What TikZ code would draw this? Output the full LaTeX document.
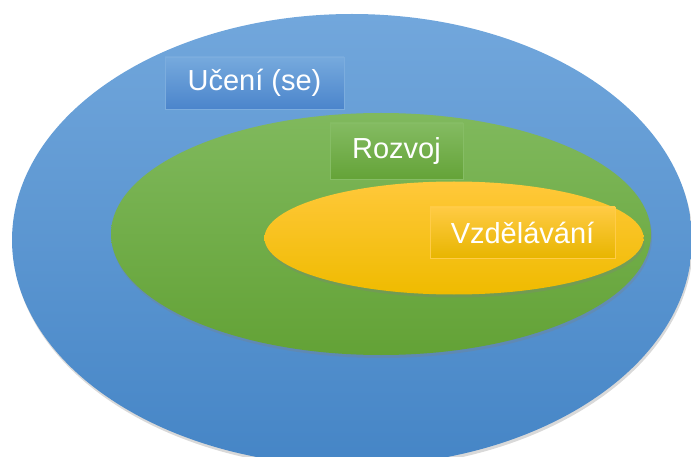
\documentclass[tikz,border=0pt]{standalone}
\usepackage{fontspec}
\setmainfont{Liberation Sans}
\usetikzlibrary{shapes, shadows}

\definecolor{bluetop}{HTML}{72A7DC}
\definecolor{bluebot}{HTML}{4585C6}
\definecolor{greentop}{HTML}{80B95D}
\definecolor{greenbot}{HTML}{63A236}
\definecolor{yellowtop}{HTML}{FFC83A}
\definecolor{yellowbot}{HTML}{EFBB00}

\begin{document}
\begin{tikzpicture}[x=1pt, y=-1pt]
\tikzstyle{set}=[ellipse, inner sep=0pt, drop shadow={opacity=0.3, shadow xshift=1pt, shadow yshift=-3pt}]
\tikzstyle{tag}=[rectangle, inner sep=0pt, line width=0.6pt, text=white, font=\fontsize{29}{33}\selectfont]
\useasboundingbox (0,0) rectangle (691,457);

% nested sets
\node[set, top color=bluetop, bottom color=bluebot, minimum width=680pt, minimum height=452pt](learning) at (352,240) {};
\node[set, top color=greentop, bottom color=greenbot, minimum width=540pt, minimum height=242pt](growth) at (381,234) {};
\node[set, top color=yellowtop, bottom color=yellowbot, minimum width=379pt, minimum height=113pt](education) at (454,238) {};

% labels
\node[tag, draw=bluetop!93!white, top color=bluetop!97!white, bottom color=bluebot!95!blue!95!white, minimum width=179pt, minimum height=52pt](learninglbl) at (254.5,83) {Učení (se)};
\node[tag, draw=greentop!95!white, top color=greentop!97!white, bottom color=greenbot!95!greentop, minimum width=133pt, minimum height=56pt](growthlbl) at (396.5,151) {Rozvoj};
\node[tag, draw=yellowtop!93!white, top color=yellowtop!95!white, bottom color=yellowbot!97!black, minimum width=185pt, minimum height=51pt](educationlbl) at (522.5,232.5) {Vzdělávání};

\end{tikzpicture}
\end{document}
